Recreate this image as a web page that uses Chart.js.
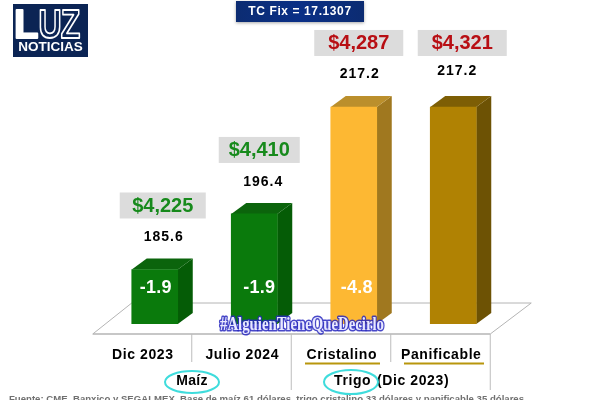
<!DOCTYPE html>
<html>
<head>
<meta charset="utf-8">
<style>
  html, body { margin: 0; padding: 0; background: #fff; overflow: hidden; }
  #wrap { position: relative; width: 600px; height: 400px; }
</style>
<script src="https://cdn.jsdelivr.net/npm/chart.js@4"></script>
</head>
<body>
<div id="wrap"><canvas id="myChart" width="600" height="400"></canvas></div>
<script>
// Chart values
let categories = ['Dic 2023', 'Julio 2024', 'Cristalino', 'Panificable'];
let indexValues = [185.6, 196.4, 217.2, 217.2];
let priceLabels = ['$4,225', '$4,410', '$4,287', '$4,321'];
let changeLabels = ['-1.9', '-1.9', '-4.8', ''];
let groupLabels = ['Maíz', 'Trigo', '(Dic 2023)'];
let exchangeText = 'TC Fix = 17.1307';
let hashtagText = '#AlguienTieneQueDecirlo';
let sourceText = 'Fuente: CME, Banxico y SEGALMEX. Base de maíz 61 dólares, trigo cristalino 33 dólares y panificable 35 dólares.';

let frontColors = ['#0a7a0c', '#0a7a0c', '#fdb833', '#b08203'];
let sideColors = ['#055c06', '#055c06', '#a0781f', '#6d5204'];
let topColors = ['#0b640c', '#0b640c', '#bb8f2c', '#7d5e05'];
let priceColors = ['#178a1c', '#178a1c', '#b80f14', '#b80f14'];

const sans = '"Liberation Sans", Arial, sans-serif';
const axisMin = 175;
const axisMax = 238;

function poly(ctx, pts, fill) {
    ctx.beginPath();
    pts.forEach((p, i) => i ? ctx.lineTo(p[0], p[1]) : ctx.moveTo(p[0], p[1]));
    ctx.closePath();
    ctx.fillStyle = fill;
    ctx.fill();
}

function line(ctx, x1, y1, x2, y2, color, width) {
    ctx.beginPath();
    ctx.moveTo(x1, y1);
    ctx.lineTo(x2, y2);
    ctx.strokeStyle = color;
    ctx.lineWidth = width;
    ctx.stroke();
}

function text(ctx, str, x, y, font, color, align, spacing) {
    ctx.font = font;
    ctx.letterSpacing = (spacing || 0) + 'px';
    ctx.fillStyle = color;
    ctx.textAlign = align || 'center';
    ctx.textBaseline = 'middle';
    ctx.fillText(str, x, y);
}

function drawLogo(ctx) {
    ctx.fillStyle = '#0b2454';
    ctx.fillRect(13, 4, 75, 53);
    // L is solid, U and Z are outlined
    ctx.save();
    ctx.letterSpacing = '0px';
    ctx.textAlign = 'left';
    ctx.textBaseline = 'alphabetic';
    ctx.font = 'bold 40px ' + sans;
    ctx.fillStyle = '#fff';
    ctx.strokeStyle = '#fff';
    ctx.lineWidth = 2;
    ctx.strokeText('L', 14, 38);
    ctx.fillText('L', 14, 38);
    ctx.lineWidth = 1.8;
    ctx.setTransform(0.8, 0, 0, 1, 0, 0);
    ctx.strokeText('U', 48, 38);
    ctx.strokeText('Z', 76, 38);
    ctx.restore();
    text(ctx, 'NOTICIAS', 50.5, 47, 'bold 13.5px ' + sans, '#fff');
}

// floor of the 3D box plus the side and top faces of each bar
const depthPlugin = {
    id: 'depth',
    beforeDraw(chart) {
        chart.ctx.letterSpacing = '0.6px';
    },
    beforeDatasetsDraw(chart) {
        let ctx = chart.ctx;
        let bars = chart.getDatasetMeta(0).data;
        let base = bars[0].base;
        let left = bars[0].x - 62;
        let right = bars[3].x + 37;
        let front = base + 10;
        ctx.save();
        line(ctx, left, front, left + 39, front - 31, '#b4b4b4', 1);
        line(ctx, left + 39, front - 31, right + 41, front - 31, '#b4b4b4', 1);
        line(ctx, right + 41, front - 31, right, front, '#b4b4b4', 1);
        line(ctx, left, front, right, front, '#b4b4b4', 1.5);
        bars.forEach((bar, i) => {
            let divX = bar.x + 37;
            let drop = i % 2 ? 56 : 28;
            line(ctx, divX, front, divX, front + drop, '#bdbdbd', 1);
            let r = bar.x + bar.width / 2;
            let l = bar.x - bar.width / 2;
            poly(ctx, [[r, bar.y], [r + 15, bar.y - 11], [r + 15, bar.base - 11], [r, bar.base]], sideColors[i]);
            poly(ctx, [[l, bar.y], [l + 15, bar.y - 11], [r + 15, bar.y - 11], [r, bar.y]], topColors[i]);
        });
        ctx.restore();
    },
    afterDatasetsDraw(chart) {
        let ctx = chart.ctx;
        let bars = chart.getDatasetMeta(0).data;
        let boxNudge = [8, 5, 5, 9];
        let boxWidth = [86, 81, 89, 89];
        let indexNudge = [0, 0, -3, -5];
        let indexRise = [32, 32, 33, 36];
        let changeNudge = [1, 5, 3, 0];
        ctx.save();
        bars.forEach((bar, i) => {
            let cx = bar.x + boxNudge[i];
            let cy = bar.y - 64;
            ctx.fillStyle = '#dcdcdc';
            ctx.fillRect(cx - boxWidth[i] / 2, cy - 13, boxWidth[i], 26);
            text(ctx, priceLabels[i], cx, cy + 1, 'bold 20px ' + sans, priceColors[i]);
            text(ctx, indexValues[i].toFixed(1), bar.x + 9 + indexNudge[i], bar.y - indexRise[i], 'bold 14px ' + sans, '#000', 'center', 1);
            if (changeLabels[i]) {
                text(ctx, changeLabels[i], bar.x + changeNudge[i], bar.base - 36, 'bold 18px ' + sans, '#fff', 'center', 0.3);
            }
        });

        // hashtag watermark over the floor
        ctx.font = 'bold 18px "Liberation Serif", serif';
        ctx.textAlign = 'left';
        ctx.textBaseline = 'middle';
        ctx.lineJoin = 'round';
        ctx.letterSpacing = '0px';
        ctx.strokeStyle = 'rgba(40,40,190,0.85)';
        ctx.lineWidth = 3;
        ctx.strokeText(hashtagText, 220, 325, 164);
        ctx.fillStyle = '#e8e8ff';
        ctx.fillText(hashtagText, 220, 325, 164);

        // gold underlines
        line(ctx, 305, 363.5, 380, 363.5, '#b8960c', 2);
        line(ctx, 404, 363.5, 484, 363.5, '#b8960c', 2);

        // group labels with turquoise ellipses
        text(ctx, groupLabels[0], 192, 381, 'bold 14px ' + sans, '#000', 'center', 0.3);
        text(ctx, groupLabels[1], 334, 381, 'bold 14px ' + sans, '#000', 'left', 0.6);
        text(ctx, groupLabels[2], 377, 381, 'bold 14px ' + sans, '#000', 'left', 0.6);
        ctx.strokeStyle = '#3fdcdc';
        ctx.lineWidth = 2;
        ctx.beginPath();
        ctx.ellipse(192, 382, 27, 11, 0, 0, Math.PI * 2);
        ctx.stroke();
        ctx.beginPath();
        ctx.ellipse(351, 382, 27, 12, 0, 0, Math.PI * 2);
        ctx.stroke();

        // source line, cut off by the bottom edge
        text(ctx, sourceText, 9, 399, 'bold 9.6px ' + sans, '#707070', 'left');

        // TC Fix box
        ctx.shadowColor = 'rgba(0,0,0,0.35)';
        ctx.shadowBlur = 3;
        ctx.shadowOffsetY = 1;
        let grad = ctx.createLinearGradient(236, 0, 364, 0);
        grad.addColorStop(0, '#0c2c72');
        grad.addColorStop(0.5, '#0a2f86');
        grad.addColorStop(1, '#0c2c72');
        ctx.fillStyle = grad;
        ctx.fillRect(236, 1, 128, 21);
        ctx.shadowColor = 'transparent';
        ctx.shadowBlur = 0;
        ctx.shadowOffsetY = 0;
        text(ctx, exchangeText, 300, 11.5, 'bold 12px ' + sans, '#fff', 'center', 0.6);

        drawLogo(ctx);
        ctx.restore();
    }
};

let chartData = {
    type: 'bar',
    data: {
        labels: categories,
        datasets: [{
            data: indexValues,
            base: axisMin,
            backgroundColor: frontColors,
            barThickness: 46,
            borderWidth: 0
        }]
    },
    options: {
        responsive: false,
        animation: false,
        layout: { padding: { left: 105, right: 97, top: 0, bottom: 0 } },
        plugins: { legend: { display: false }, tooltip: { enabled: false } },
        scales: {
            x: {
                grid: { display: false },
                border: { display: false },
                afterFit(scale) { scale.height = 76; },
                ticks: {
                    color: '#000',
                    font: { family: sans, size: 14, weight: 'bold' },
                    labelOffset: -12,
                    padding: 15,
                    maxRotation: 0
                }
            },
            y: {
                display: false,
                min: axisMin,
                max: axisMax
            }
        }
    },
    plugins: [depthPlugin]
};

let ctx = document.getElementById('myChart').getContext('2d');
let myChart = new Chart(ctx, chartData);
</script>
</body>
</html>
